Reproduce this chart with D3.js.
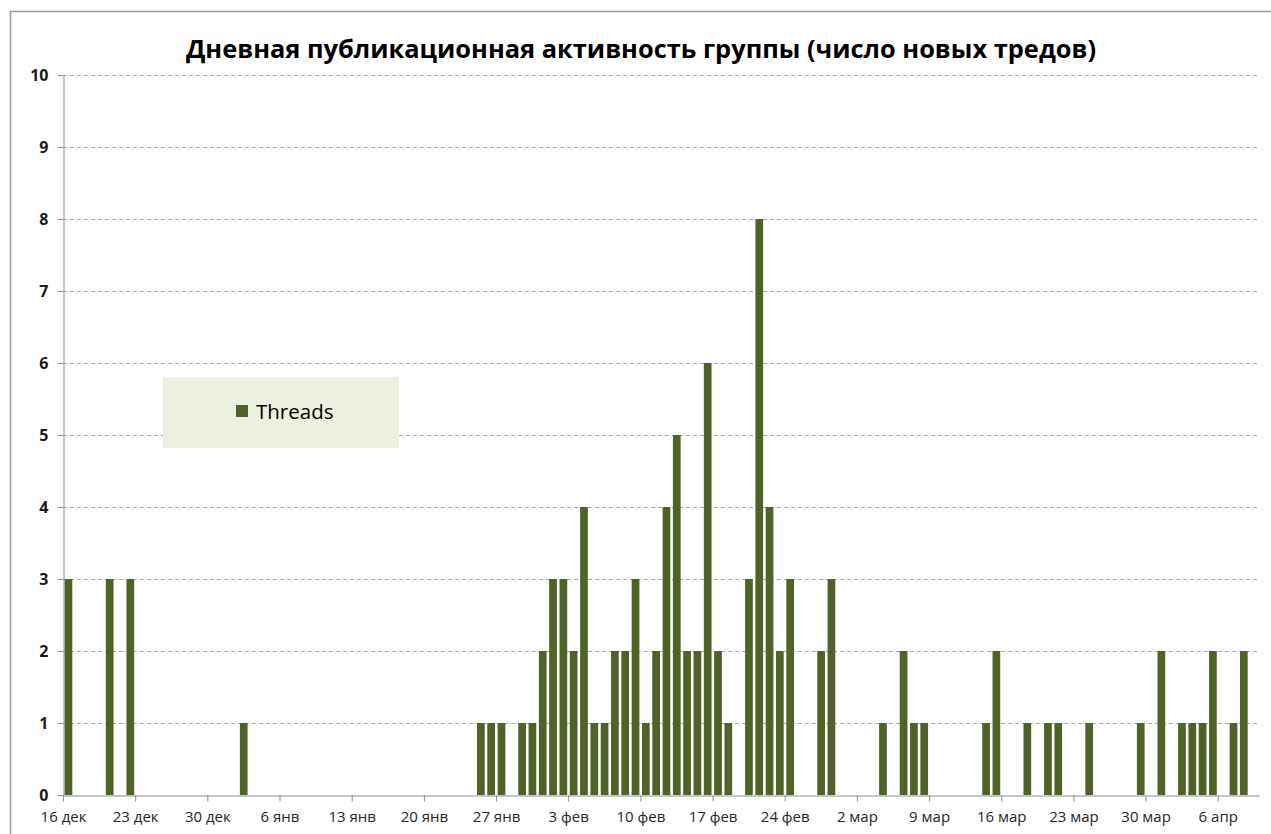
<!DOCTYPE html>
<html>
<head>
<meta charset="utf-8">
<script src="https://cdn.jsdelivr.net/npm/d3@7"></script>
<style>
  body { margin: 0; background: #fff; }
  text { font-family: "Open Sans", "Noto Sans", sans-serif; }
</style>
</head>
<body>
<script>
// days with new threads (winter 2011/12), value = number of threads
var dates = ["2011-12-16","2011-12-20","2011-12-22","2012-01-02",
  "2012-01-25","2012-01-26","2012-01-27","2012-01-29","2012-01-30","2012-01-31",
  "2012-02-01","2012-02-02","2012-02-03","2012-02-04","2012-02-05","2012-02-06",
  "2012-02-07","2012-02-08","2012-02-09","2012-02-10","2012-02-11","2012-02-12",
  "2012-02-13","2012-02-14","2012-02-15","2012-02-16","2012-02-17","2012-02-18",
  "2012-02-20","2012-02-21","2012-02-22","2012-02-23","2012-02-24","2012-02-27",
  "2012-02-28","2012-03-04","2012-03-06","2012-03-07","2012-03-08","2012-03-14",
  "2012-03-15","2012-03-18","2012-03-20","2012-03-21","2012-03-24","2012-03-29",
  "2012-03-31","2012-04-02","2012-04-03","2012-04-04","2012-04-05","2012-04-07",
  "2012-04-08"];
var threads = [3,3,3,1,
  1,1,1,1,1,2,
  3,3,2,4,1,1,
  2,2,3,1,2,4,
  5,2,2,6,2,1,
  3,8,4,2,3,2,
  3,1,2,1,1,1,
  2,1,1,1,1,1,
  2,1,1,1,2,1,
  2];

var tickLabels = ["16 дек","23 дек","30 дек","6 янв","13 янв","20 янв","27 янв",
  "3 фев","10 фев","17 фев","24 фев","2 мар","9 мар","16 мар","23 мар","30 мар","6 апр"];
var yTicks = [0,1,2,3,4,5,6,7,8,9,10];

var title = "Дневная публикационная активность группы (число новых тредов)";
var seriesName = "Threads";

var parse = d3.timeParse("%Y-%m-%d");
var data = dates.map(function(d, i) { return { date: parse(d), value: threads[i] }; });

var width = 1271, height = 834;
var plot = { left: 63, right: 1259, top: 75, bottom: 795 };
var barColor = "#4f6228";

var svg = d3.select("body").append("svg")
    .attr("width", width)
    .attr("height", height);

// chart frame (only top and left edges fall inside the window)
svg.append("rect")
    .attr("x", 10.5).attr("y", 11.5)
    .attr("width", 1400).attr("height", 1000)
    .attr("fill", "none")
    .attr("stroke", "#9a9a9a")
    .attr("stroke-width", 1.5);

var start = parse("2011-12-16");
var end = parse("2012-04-10");
var x = d3.scaleTime().domain([start, end]).range([plot.left, plot.right]);
var y = d3.scaleLinear().domain([0, 10]).range([plot.bottom, plot.top]);

// one tick a week, starting from the first day
var tickDates = d3.timeDay.range(start, end, 7);

// gridlines
svg.append("g").selectAll("line")
    .data(yTicks.filter(function(t) { return t > 0; }))
    .enter().append("line")
    .attr("x1", plot.left).attr("x2", plot.right)
    .attr("y1", function(d) { return Math.round(y(d)) + 0.5; })
    .attr("y2", function(d) { return Math.round(y(d)) + 0.5; })
    .attr("stroke", "#a6a6a6")
    .attr("stroke-dasharray", "4,3");

// bars
svg.append("g").selectAll("rect")
    .data(data)
    .enter().append("rect")
    .attr("x", function(d) { return x(d.date) + 1.6; })
    .attr("width", function(d) { return x(d3.timeDay.offset(d.date, 1)) - x(d.date) - 2.6; })
    .attr("y", function(d) { return y(d.value); })
    .attr("height", function(d) { return y(0) - y(d.value); })
    .attr("fill", barColor);

// y axis
var yAxis = svg.append("g")
    .attr("transform", "translate(" + (plot.left + 0.5) + ",0)")
    .call(d3.axisLeft(y).tickValues(yTicks).tickSize(6).tickSizeOuter(0).tickPadding(9));
yAxis.select(".domain").attr("stroke", "#8c8c8c");
yAxis.selectAll(".tick line").attr("stroke", "#8c8c8c");
yAxis.selectAll("text")
    .attr("font-size", 16)
    .attr("font-weight", "bold")
    .attr("fill", "#1a1a1a")
    .attr("font-family", "'Open Sans', sans-serif");

// x axis
var xAxis = svg.append("g")
    .attr("transform", "translate(0," + (plot.bottom + 0.5) + ")")
    .call(d3.axisBottom(x)
        .tickValues(tickDates)
        .tickFormat(function(d, i) { return tickLabels[i]; })
        .tickSize(6).tickSizeOuter(0).tickPadding(10));
xAxis.select(".domain").attr("stroke", "#8c8c8c");
xAxis.selectAll(".tick line").attr("stroke", "#8c8c8c");
xAxis.selectAll("text")
    .attr("font-size", 15)
    .attr("fill", "#262626")
    .attr("font-family", "'Open Sans', sans-serif");

// title, fitted to the width it takes in the original
var t = svg.append("text")
    .attr("x", 641)
    .attr("y", 58)
    .attr("text-anchor", "middle")
    .attr("font-weight", "bold")
    .attr("font-size", 26)
    .attr("fill", "#000")
    .text(title);
var tw = t.node().getComputedTextLength();
t.attr("font-size", 26 * 911 / tw);

// legend
var legend = svg.append("g");
legend.append("rect")
    .attr("x", 163).attr("y", 377)
    .attr("width", 236).attr("height", 71)
    .attr("fill", "#ebf1de");
legend.append("rect")
    .attr("x", 236).attr("y", 405)
    .attr("width", 12).attr("height", 12)
    .attr("fill", barColor);
legend.append("text")
    .attr("x", 256).attr("y", 419)
    .attr("font-size", 20.5)
    .attr("fill", "#000")
    .text(seriesName);
</script>
</body>
</html>
